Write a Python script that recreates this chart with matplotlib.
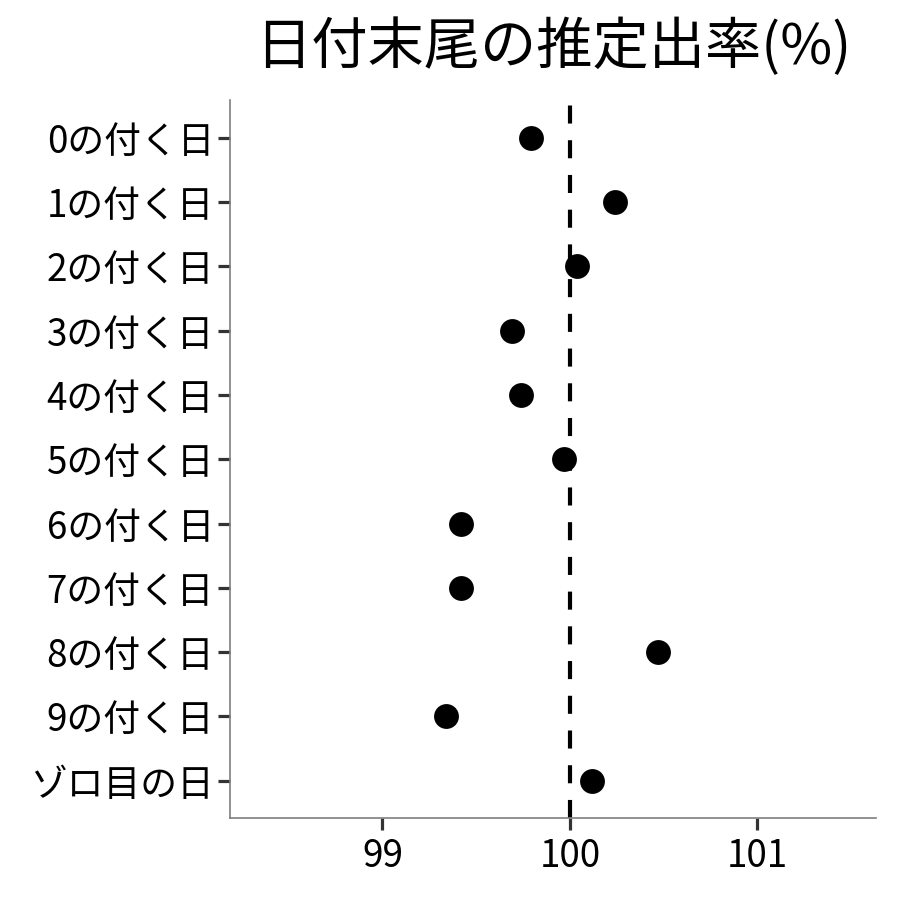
import matplotlib
matplotlib.use("Agg")
import matplotlib.pyplot as plt

plt.rcParams['font.family'] = ['Noto Sans CJK JP', 'DejaVu Sans']

categories = ["0の付く日", "1の付く日", "2の付く日", "3の付く日", "4の付く日",
              "5の付く日", "6の付く日", "7の付く日", "8の付く日", "9の付く日", "ゾロ目の日"]
values = [99.79, 100.24, 100.04, 99.69, 99.74, 99.97, 99.42, 99.42, 100.47, 99.34, 100.12]
xticks = [99, 100, 101]
title = "日付末尾の推定出率(%)"
ref_value = 100

fig = plt.figure(figsize=(9, 9), dpi=100)
ax = fig.add_axes([230/900, 82/900, 646/900, 718/900])

ypos = list(range(len(categories)))
lw = 3.0
ax.axvline(ref_value, color='black', linewidth=lw, linestyle=(0, (13/lw, 12/lw)), zorder=1)
ax.scatter(values, ypos, s=320, color='black', zorder=3, linewidths=0)

ax.set_xlim(98.187, 101.632)
ax.set_ylim(len(categories) - 1 + 0.58, -0.59)
ax.set_yticks(ypos)
ax.set_yticklabels(categories)
ax.set_xticks(xticks)
ax.set_xticklabels([str(t) for t in xticks])

for s in ['top', 'right']:
    ax.spines[s].set_visible(False)
for s in ['left', 'bottom']:
    ax.spines[s].set_color('#7f7f7f')
    ax.spines[s].set_linewidth(1.2)

ax.tick_params(axis='both', length=8.5, width=2.3, color='#333333', labelsize=26.5,
               labelcolor='black')
ax.tick_params(axis='y', pad=3)
ax.tick_params(axis='x', pad=5)

fig.text(553/900, 1 - 48/900, title, ha='center', va='center', fontsize=40.5)

fig.savefig("out.png", dpi=100, facecolor='white')
